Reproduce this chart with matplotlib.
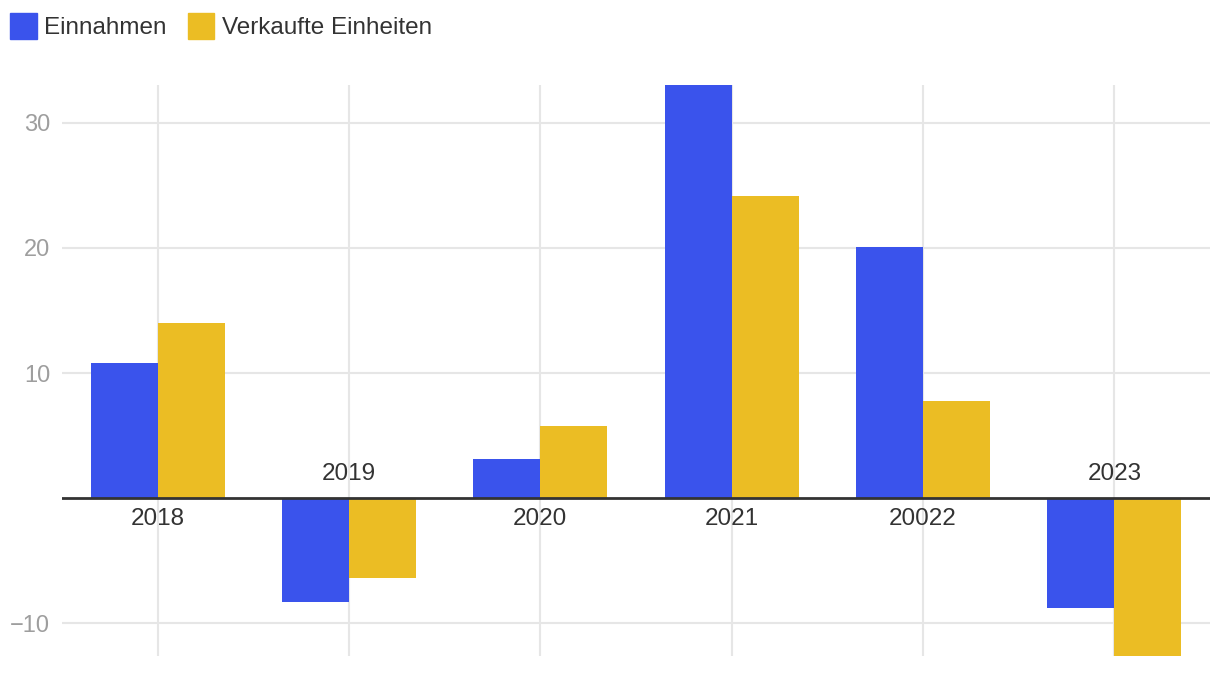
import numpy as np
import matplotlib.pyplot as plt
from matplotlib.patches import Patch

plt.rcParams['font.family'] = ['Liberation Sans', 'DejaVu Sans']

years = ["2018", "2019", "2020", "2021", "20022", "2023"]
einnahmen = [10.8, -8.3, 3.1, 33.0, 20.1, -8.8]
verkaufte = [14.0, -6.4, 5.8, 24.1, 7.8, -12.6]
series_names = ["Einnahmen", "Verkaufte Einheiten"]
y_ticks = [-10, 10, 20, 30]

BLUE = "#3A53EC"
YELLOW = "#EBBD24"

fig = plt.figure(figsize=(12.2, 6.74), dpi=100)
ax = fig.add_axes([62/1220, 18/674, 1148/1220, 571/674])

x = np.arange(len(years))
w = 0.35
ax.bar(x - w/2, einnahmen, w, color=BLUE, zorder=3)
ax.bar(x + w/2, verkaufte, w, color=YELLOW, zorder=3)

ax.set_xlim(-0.5, len(years) - 0.5)
ax.set_ylim(-12.6, 33.0)

# grid
for xi in x:
    ax.axvline(xi, color="#e6e6e6", lw=1.5, zorder=1)
for yt in y_ticks:
    ax.axhline(yt, color="#e6e6e6", lw=1.5, zorder=1)
ax.axhline(0, color="#333333", lw=2, zorder=4)

ax.set_yticks(y_ticks)
ax.set_yticklabels([f"{t}".replace("-", "\u2212") for t in y_ticks])
ax.tick_params(axis="y", length=0, pad=8.5, labelsize=17, labelcolor="#9e9e9e")
ax.set_xticks([])
for s in ax.spines.values():
    s.set_visible(False)

# category labels next to the zero line
for xi, yr, v in zip(x, years, einnahmen):
    off = -21 if v >= 0 else 24
    ax.annotate(yr, (xi, 0), xytext=(0, off), textcoords="offset pixels",
                ha="center", va="center", fontsize=17.5, color="#333333", zorder=5)

handles = [Patch(color=BLUE), Patch(color=YELLOW)]
fig.legend(handles, series_names, loc="upper left", bbox_to_anchor=(0.0005, 0.995),
           ncol=2, frameon=False, fontsize=17.5, handlelength=1.1, handleheight=1.25,
           handletextpad=0.3, columnspacing=0.85, labelcolor="#333333", borderaxespad=0)

fig.savefig("out.png", dpi=100)
